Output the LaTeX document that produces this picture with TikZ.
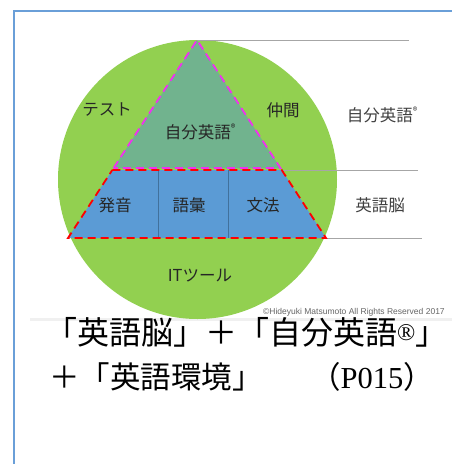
\documentclass[tikz,border=0pt]{standalone}
\usepackage{fontspec}
\setmainfont{Liberation Serif}
\newfontfamily\jp{Noto Sans CJK JP}
\newfontfamily\lsans{Liberation Sans}
\definecolor{frameblue}{HTML}{6A9FD8}
\definecolor{circgreen}{HTML}{92D050}
\definecolor{trigreen}{HTML}{71B38E}
\definecolor{trapblue}{HTML}{5B9BD5}
\definecolor{divblue}{HTML}{41719C}
\definecolor{guidegray}{HTML}{A6A6A6}
\definecolor{lbl}{HTML}{262626}
\definecolor{sidelbl}{HTML}{404040}
\definecolor{dashred}{HTML}{FF0000}
\definecolor{dashmag}{HTML}{F030F0}
\tikzset{
  frame/.style={draw=frameblue, line width=2pt},
  guide/.style={draw=guidegray, line width=1pt},
  reddash/.style={draw=dashred, line width=1.8pt, dash pattern=on 8pt off 5pt},
  magdash/.style={draw=dashmag, line width=1.8pt, dash pattern=on 8pt off 5pt},
  inlbl/.style={font=\jp\fontsize{16.5}{16.5}\selectfont, text=lbl, inner sep=0pt},
  sidelabel/.style={font=\jp\fontsize{16.5}{16.5}\selectfont, text=sidelbl, inner sep=0pt},
  bigtxt/.style={font=\jp\fontsize{32}{32}\selectfont, text=black, inner sep=0pt},
  bigtxtb/.style={font=\jp\fontsize{30.5}{30.5}\selectfont, text=black, inner sep=0pt},
}
\newcommand{\smallreg}{\raisebox{0.4em}{\fontsize{9.5}{9.5}\selectfont ®}}
\begin{document}
\begin{tikzpicture}[x=1pt,y=-1pt]
\useasboundingbox (0,0) rectangle (452,464);
\fill[white] (0,0) rectangle (452,464);
% frame
\draw[frame] (14,465) -- (14,11) -- (453,11);
% faint band
\fill[black!6] (30,318) rectangle (452,321);
% circle
\fill[circgreen] (197.5,179.5) circle (139.5);
% coordinates
\coordinate (A) at (197,40);
\coordinate (TL) at (113.6,168);
\coordinate (TR) at (280.4,168);
\coordinate (ML) at (112.3,170);
\coordinate (MR) at (281.7,170);
\coordinate (BL) at (68,238);
\coordinate (BR) at (326,238);
\coordinate (D1t) at (158,170);
\coordinate (D1b) at (158,238);
\coordinate (D2t) at (228,170);
\coordinate (D2b) at (228,238);
\coordinate (G1) at (409,40);
\coordinate (G2) at (418,170);
\coordinate (G3) at (422,238);
% guide lines
\draw[guide] (A) -- (G1);
\draw[guide] (MR) -- (G2);
\draw[guide] (BR) -- (G3);
% triangle
\fill[trigreen] (A) -- (TR) -- (TL) -- cycle;
% trapezoid
\fill[trapblue] (ML) -- (MR) -- (BR) -- (BL) -- cycle;
\draw[divblue, line width=0.8pt] (D1t) -- (D1b);
\draw[divblue, line width=0.8pt] (D2t) -- (D2b);
\draw[reddash] (ML) -- (MR) -- (BR) -- (BL) -- cycle;
\draw[magdash] (TL) -- (A) -- (TR) -- (TL);
% labels
\node[inlbl] (test) at (107,110) {テスト};
\node[inlbl] (nakama) at (283,110) {仲間};
\node[inlbl] (jibun) at (200,132) {自分英語\smallreg};
\node[inlbl] (hatsu) at (115,205) {発音};
\node[inlbl] (goi) at (189,205) {語彙};
\node[inlbl] (bunpo) at (263,205) {文法};
\node[inlbl] (it) at (200,276) {ITツール};
\node[sidelabel] (rjibun) at (382,115) {自分英語\smallreg};
\node[sidelabel] (rnou) at (380,205) {英語脳};
% copyright
\node[font=\lsans\fontsize{8.5}{8.5}\selectfont, text=black!60, inner sep=0pt, anchor=west] (copy) at (263,312) {©Hideyuki Matsumoto All Rights Reserved 2017};
% bottom text
\node[bigtxt, anchor=west] (line1) at (45,332) {「英語脳」＋「自分英語\raisebox{0.12em}{\rmfamily\fontsize{24}{24}\selectfont ®}」};
\node[bigtxtb, anchor=west] (line2a) at (49,377) {＋「英語環境」};
\node[bigtxtb, anchor=east] (line2b) at (434,377) {（{\rmfamily P015}）};
\end{tikzpicture}
\end{document}
